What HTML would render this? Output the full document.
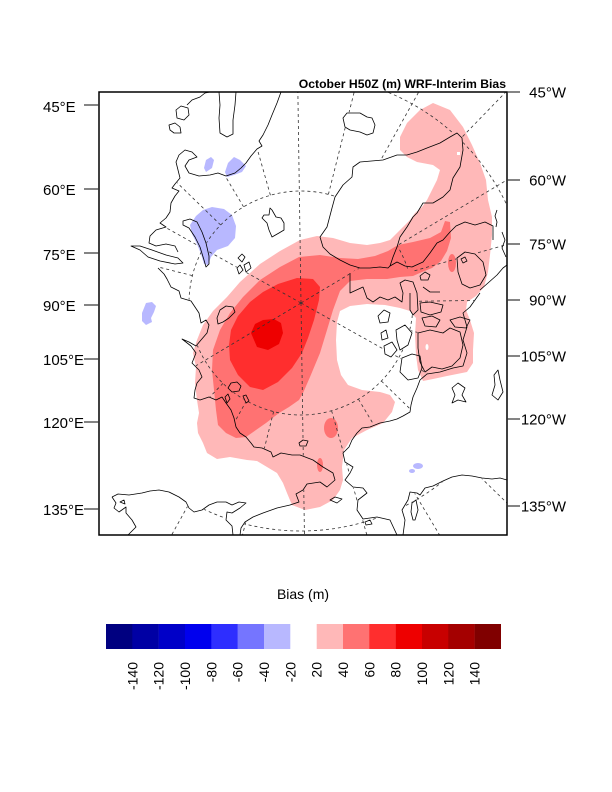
<!DOCTYPE html>
<html><head><meta charset="utf-8"><style>
html,body{margin:0;padding:0;background:#fff;}
svg{display:block;}
text{font-family:"Liberation Sans",Arial,sans-serif;fill:#000;}
</style></head><body>
<svg width="612" height="792" viewBox="0 0 612 792" xmlns="http://www.w3.org/2000/svg" xmlns:xlink="http://www.w3.org/1999/xlink">
<rect width="612" height="792" fill="#fff"/>
<defs>
<clipPath id="c"><rect x="99" y="92" width="408" height="443"/></clipPath>
<g id="isl">
<path d="M176,110 L181,106 L188,108 L189,115 L184,120 L177,118 Z"/>
<path d="M169,125 L175,123 L180,127 L181,133 L174,133 L170,130 Z"/>
<path d="M270,208 L272,210 L276,217 L281,218 L284,223 L284,230 L279,233 L272,237 L269,230 L267,223 L262,218 L264,215 L269,215 Z"/>
<path d="M343,118 L347,113 L360,113 L367,117 L372,118 L375,125 L373,133 L367,135 L360,132 L350,130 L345,127 Z"/>
<path d="M238,258 L242,254 L245,257 L242,262 Z M244,265 L249,262 L251,268 L246,272 Z M237,268 L240,265 L243,270 L239,274 Z"/>
<path d="M183,221 L190,219 L197,222 L202,232 L206,243 L209,256 L209,264 L206,267 L204,260 L200,247 L195,237 L189,228 L183,225 Z"/>
<path d="M131,246 L140,250 L148,257 L160,261 L175,264 L183,263 L178,258 L166,255 L152,250 L140,246 Z"/>
<path d="M217,318 L220,310 L226,306 L233,307 L235,312 L229,318 L223,322 L218,324 Z"/>
<path d="M228,388 L231,383 L237,382 L241,386 L239,391 L232,392 Z"/>
<path d="M225,397 L228,394 L230,399 L227,403 Z M243,396 L246,395 L249,401 L246,403 Z"/>
<path d="M299,443 L303,440 L308,441 L306,446 L300,446 Z"/>
<path d="M330,500 L335,497 L342,499 L337,503 Z"/>
<path d="M120,502 L124,500 L125,504 Z"/>
<path d="M332,208 L335,197 L343,185 L352,177 L353,167 L360,162 L383,160 L397,155 L407,155 L417,152 L427,148 L440,143 L450,137 L457,133 L462,138 L463,150 L460,167 L453,178 L450,190 L443,197 L433,203 L423,203 L417,213 L413,217 L407,227 L400,237 L397,247 L393,257 L390,266 L388,268 L380,267 L370,268 L360,268 L350,265 L340,260 L330,254 L323,247 L320,237 L327,227 Z"/>
<path d="M420,276 L425,272 L430,275 L428,280 L421,280 Z"/>
<path d="M420,303 L430,302 L443,305 L441,312 L430,315 L421,312 Z"/>
<path d="M422,318 L432,316 L440,320 L436,327 L425,326 Z"/>
<path d="M450,320 L460,317 L470,320 L466,328 L455,327 Z"/>
<path d="M418,333 L430,330 L443,333 L450,328 L460,332 L463,345 L460,358 L452,366 L442,369 L432,367 L425,372 L420,362 L418,348 Z"/>
<path d="M402,358 L412,354 L420,356 L422,368 L418,378 L408,380 L400,372 Z"/>
<path d="M378,316 L384,310 L390,313 L388,322 L380,323 Z"/>
<path d="M381,333 L386,330 L388,338 L382,340 Z"/>
<path d="M384,346 L392,342 L397,350 L391,357 L385,354 Z"/>
<path d="M396,330 L405,325 L412,333 L408,345 L400,350 L397,340 Z"/>
<path d="M457,258 L465,252 L475,254 L483,262 L486,275 L480,285 L470,288 L462,284 L458,272 Z"/>
<path d="M461,259 L465,257 L467,261 L463,263 Z"/>
<path d="M413,520 L411,512 L412,503 L416,500 L418,510 L415,520 Z"/>
<path d="M452,388 L458,383 L465,388 L462,395 L466,402 L458,400 L452,403 L455,395 Z"/>
<path d="M494,375 L498,370 L500,380 L503,392 L498,400 L492,395 L495,385 Z"/>
<path d="M365,522 L370,520 L372,524 L366,525 Z"/>
</g>
<mask id="sea" maskUnits="userSpaceOnUse" x="0" y="0" width="612" height="792">
<rect width="612" height="792" fill="#fff"/>
<g fill="#000" stroke="#000" stroke-width="1.5">
<path d="M99,92 L281,92 L277,103 L272,115 L268,125 L263,135 L259,141 L262,146 L257,149 L251,156 L246,163 L241,168 L235,173 L226,176 L218,173 L210,175 L199,176 L189,173 L185,166 L189,160 L197,157 L192,152 L185,150 L179,155 L176,162 L178,170 L180,178 L175,184 L172,188 L179,191 L175,196 L171,203 L170,212 L166,218 L160,223 L166,227 L156,230 L150,236 L149,243 L156,246 L166,244 L175,246 L178,252 L183,263 L175,264 L160,261 L158,268 L164,274 L167,279 L171,287 L179,291 L181,298 L191,301 L199,313 L201,323 L206,320 L209,325 L207,333 L201,340 L196,346 L189,342 L182,339 L191,346 L196,353 L192,363 L199,370 L202,377 L197,383 L195,390 L194,398 L200,400 L209,397 L216,400 L222,397 L226,403 L231,410 L234,418 L236,427 L240,433 L246,437 L251,443 L254,447 L262,448 L271,452 L273,457 L281,453 L292,455 L300,455 L313,460 L323,467 L333,473 L335,480 L327,487 L320,482 L307,484 L303,490 L296,494 L299,502 L290,505 L277,508 L263,513 L253,517 L245,522 L241,528 L240,535 L233,535 L232,526 L226,520 L227,512 L232,513 L240,508 L246,503 L239,502 L232,505 L226,502 L217,502 L209,505 L202,510 L194,512 L189,508 L186,502 L179,497 L169,492 L159,490 L150,491 L142,493 L129,495 L118,494 L112,497 L116,503 L114,508 L119,512 L126,507 L126,513 L132,520 L136,527 L130,533 L128,535 L99,535 Z"/>
<path d="M350,273 L350,293 L363,287 L367,298 L373,302 L380,297 L388,300 L395,297 L402,302 L403,293 L400,283 L405,280 L413,282 L417,293 L418,310 L413,315 L410,310 L410,293 L412,270 L400,268 L380,270 L360,270 Z"/>
<path d="M480,293 L470,307 L463,313 L467,327 L463,340 L467,353 L463,366 L453,368 L440,372 L427,374 L420,380 L417,388 L413,397 L411,405 L410,412 L403,416 L397,419 L390,421 L380,423 L370,427 L362,428 L357,433 L352,440 L349,447 L343,453 L345,462 L353,467 L350,473 L345,480 L353,487 L363,488 L367,493 L358,500 L357,510 L363,519 L377,517 L390,520 L397,535 L403,535 L405,520 L402,510 L408,500 L410,492 L417,493 L420,495 L425,488 L433,486 L443,481 L452,477 L462,475 L472,476 L482,478 L492,479 L500,478 L507,480 L507,265 L503,268 L497,275 L488,283 Z"/>
<use href="#isl" xlink:href="#isl"/>
</g>
</mask>
</defs>
<g clip-path="url(#c)">
<!-- pink >=20 -->
<path fill="#FFB8B8" d="M433,103 L450,110 L463,127 L472,145 L480,163 L486,180 L488,200 L492,217 L492,235 L490,255 L488,272 L484,287 L476,296 L467,302 L466,310 L470,320 L474,333 L473,350 L473,363 L467,372 L447,376 L433,379 L423,381 L418,370 L416,355 L415,335 L416,318 L410,311 L400,308 L385,305 L367,304 L350,306 L340,311 L337,322 L336,340 L337,360 L341,375 L348,385 L362,390 L380,392 L390,395 L395,402 L392,412 L383,423 L367,430 L352,438 L344,450 L342,467 L343,480 L340,490 L333,500 L320,507 L305,510 L292,505 L287,493 L283,483 L277,473 L267,467 L257,461 L247,460 L230,457 L217,459 L207,453 L203,443 L198,433 L197,423 L199,413 L197,400 L195,383 L196,367 L193,353 L197,340 L203,325 L213,311 L227,297 L240,282 L260,264 L280,251 L300,240 L317,236 L333,238 L350,243 L367,245 L380,243 L390,240 L397,233 L403,227 L410,220 L415,213 L422,207 L427,200 L432,190 L437,180 L440,170 L433,165 L417,162 L407,157 L400,150 L400,137 L407,123 L420,110 Z"/>
<!-- 40 -->
<path fill="#FF7272" d="M236,438 L246,437 L256,430 L266,423 L279,413 L289,407 L299,400 L303,393 L310,377 L320,353 L327,330 L333,310 L340,291 L350,281 L367,279 L387,279 L400,277 L413,276 L422,272 L432,268 L441,261 L447,251 L451,238 L450,222 L445,221 L441,232 L430,238 L413,242 L398,245 L388,251 L375,256 L358,259 L340,258 L320,255 L299,257 L280,267 L260,280 L243,297 L230,313 L220,330 L213,350 L212,370 L214,390 L216,410 L218,425 L226,433 Z"/>
<ellipse cx="331" cy="428" rx="7" ry="10" fill="#FF7272"/>
<ellipse cx="320" cy="465" rx="3" ry="7" fill="#FF7272"/>
<ellipse cx="452" cy="263" rx="4" ry="9" fill="#FF7272"/>
<!-- 60 -->
<path fill="#FF2E2E" d="M229,345 L231,330 L238,316 L250,302 L263,292 L278,284 L297,278 L313,279 L320,287 L319,300 L314,320 L308,338 L302,353 L292,368 L278,382 L263,390 L250,387 L238,375 L230,360 Z"/>
<!-- 80 -->
<path fill="#EE0000" d="M251,333 L255,324 L263,320 L274,319 L281,323 L283,333 L279,344 L268,350 L257,347 Z"/>
<rect x="457" y="152" width="3" height="3" fill="#fff"/>
<ellipse cx="427" cy="347" rx="1.5" ry="3" fill="#fff"/>
<!-- blues -->
<g fill="#B8B8FF">
<path d="M212,207 L224,209 L232,215 L236,226 L235,238 L228,246 L217,250 L211,257 L208,265 L204,264 L201,254 L197,244 L192,234 L190,225 L196,216 L203,210 Z"/>
<path d="M204,168 L206,160 L211,157 L214,160 L212,168 L206,172 Z"/>
<path d="M225,172 L228,163 L234,157 L240,160 L246,166 L242,172 L234,175 L227,177 Z"/>
<path d="M146,303 L152,302 L156,306 L154,312 L151,318 L152,322 L146,325 L142,321 L142,313 Z"/>
<ellipse cx="418" cy="466" rx="5" ry="3"/>
<ellipse cx="412" cy="471" rx="3" ry="2"/>
</g>
<!-- grid (masked over land) -->
<g mask="url(#sea)">
<g fill="none" stroke="#333" stroke-width="0.8" stroke-dasharray="3,3">
<circle cx="301" cy="303" r="112"/>
<circle cx="301" cy="303" r="228"/>
<g transform="translate(301,303)">
<line x1="0" y1="-112" x2="0" y2="-420" transform="rotate(-165.85)"/>
<line x1="0" y1="-112" x2="0" y2="-420" transform="rotate(-150.85)"/>
<line x1="0" y1="-112" x2="0" y2="-420" transform="rotate(-135.85)"/>
<line x1="0" y1="0" x2="0" y2="-420" transform="rotate(-120.85)"/>
<line x1="0" y1="-112" x2="0" y2="-420" transform="rotate(-105.85)"/>
<line x1="0" y1="-112" x2="0" y2="-420" transform="rotate(-90.85)"/>
<line x1="0" y1="-112" x2="0" y2="-420" transform="rotate(-75.85)"/>
<line x1="0" y1="0" x2="0" y2="-420" transform="rotate(-60.85)"/>
<line x1="0" y1="-112" x2="0" y2="-420" transform="rotate(-45.85)"/>
<line x1="0" y1="-112" x2="0" y2="-420" transform="rotate(-30.85)"/>
<line x1="0" y1="-112" x2="0" y2="-420" transform="rotate(-15.85)"/>
<line x1="0" y1="0" x2="0" y2="-420" transform="rotate(-0.85)"/>
<line x1="0" y1="-112" x2="0" y2="-420" transform="rotate(14.15)"/>
<line x1="0" y1="-112" x2="0" y2="-420" transform="rotate(29.15)"/>
<line x1="0" y1="-112" x2="0" y2="-420" transform="rotate(44.15)"/>
<line x1="0" y1="0" x2="0" y2="-420" transform="rotate(59.15)"/>
<line x1="0" y1="-112" x2="0" y2="-420" transform="rotate(74.15)"/>
<line x1="0" y1="-112" x2="0" y2="-420" transform="rotate(89.15)"/>
<line x1="0" y1="-112" x2="0" y2="-420" transform="rotate(104.15)"/>
<line x1="0" y1="0" x2="0" y2="-420" transform="rotate(119.15)"/>
<line x1="0" y1="-112" x2="0" y2="-420" transform="rotate(134.15)"/>
<line x1="0" y1="-112" x2="0" y2="-420" transform="rotate(149.15)"/>
<line x1="0" y1="-112" x2="0" y2="-420" transform="rotate(164.15)"/>
<line x1="0" y1="0" x2="0" y2="-420" transform="rotate(179.15)"/>
</g>
</g>
</g>
<!-- coastlines -->
<g fill="none" stroke="#000" stroke-width="0.8" stroke-linejoin="round">
<use href="#isl" xlink:href="#isl"/>
<path d="M281,92 L277,103 L272,115 L268,125 L263,135 L259,141 L262,146 L257,149 L251,156 L246,163 L241,168 L235,173 L226,176 L218,173 L210,175 L199,176 L189,173 L185,166 L189,160 L197,157 L192,152 L185,150 L179,155 L176,162 L178,170 L180,178 L175,184 L172,188 L179,191 L175,196 L171,203 L170,212 L166,218 L160,223 L166,227 L156,230 L150,236 L149,243 L156,246 L166,244 L175,246 L178,252"/>
<path d="M187,105 L192,100 L200,97 L205,93 L210,92"/>
<path d="M219,92 L220,105 L219,118 L220,133 L227,137 L233,134 L233,120 L235,105 L236,92"/>
<path d="M158,268 L164,274 L167,279 L171,287 L179,291 L181,298 L191,301 L199,313 L201,323 L206,320 L209,325 L207,333 L201,340 L196,346 L189,342 L182,339 L191,346 L196,353 L192,363 L199,370 L202,377 L197,383 L195,390 L194,398 L200,400 L209,397 L216,400 L222,397 L226,403 L231,410 L234,418 L236,427 L240,433 L246,437 L251,443 L254,447 L262,448 L271,452 L273,457 L281,453 L292,455 L300,455 L313,460 L323,467 L333,473 L335,480 L327,487 L320,482 L307,484 L303,490 L296,494 L299,502 L290,505 L277,508 L263,513 L253,517 L245,522 L241,528 L240,535"/>
<path d="M112,497 L118,494 L129,495 L142,493 L150,491 L159,490 L169,492 L179,497 L186,502 L189,508 L194,512 L202,510 L209,505 L217,502 L226,502 L232,505 L239,502 L246,503 L240,508 L232,513 L227,512 L226,520 L232,526 L233,535"/>
<path d="M112,497 L116,503 L114,508 L119,512 L126,507 L126,513 L132,520 L136,527 L130,533 L128,535"/>
<path d="M390,266 L397,262 L405,266 L412,267 L423,262 L430,253 L437,243 L443,240 L450,232 L456,226 L465,222 L475,225 L485,222 L493,226 L493,240"/>
<path d="M350,273 L350,293 L363,287 L367,298 L373,302 L380,297 L388,300 L395,297 L402,302 L403,293 L400,283 L405,280 L413,282 L417,293 L418,310 L413,315 L410,310 L410,293"/>
<path d="M423,287 L430,292 L440,292"/>
<path d="M480,290 L488,283 L497,275 L503,268 L507,265"/>
<path d="M480,293 L470,307 L463,313 L467,327 L463,340 L467,353 L463,366 L453,368 L440,372 L427,374 L420,380 L417,388 L413,397 L411,405 L410,412 L403,416 L397,419 L390,421 L380,423 L370,427 L362,428 L357,433 L352,440 L349,447 L343,453 L345,462 L353,467 L350,473 L345,480 L353,487 L363,488 L367,493 L358,500 L357,510 L363,519 L377,517 L390,520 L397,535"/>
<path d="M403,535 L405,520 L402,510 L408,500 L410,492 L417,493 L420,495 L425,488 L433,486 L443,481 L452,477 L462,475 L472,476 L482,478 L492,479 L500,478 L507,480"/>
<path d="M497,210 L495,216 L497,222 L496,227 M502,232 L505,240 L502,248 L506,257"/>
</g>
</g>
<!-- frame -->
<rect x="99" y="92" width="408" height="443" fill="none" stroke="#000" stroke-width="1.5"/>
<!-- ticks -->
<g stroke="#333" stroke-width="1.2">
<line x1="84" y1="105" x2="99" y2="105"/>
<line x1="84" y1="189" x2="99" y2="189"/>
<line x1="84" y1="253" x2="99" y2="253"/>
<line x1="84" y1="305" x2="99" y2="305"/>
<line x1="84" y1="359" x2="99" y2="359"/>
<line x1="84" y1="422" x2="99" y2="422"/>
<line x1="84" y1="509" x2="99" y2="509"/>
<line x1="507" y1="92" x2="520" y2="92"/>
<line x1="507" y1="180" x2="520" y2="180"/>
<line x1="507" y1="244" x2="520" y2="244"/>
<line x1="507" y1="300" x2="520" y2="300"/>
<line x1="507" y1="356" x2="520" y2="356"/>
<line x1="507" y1="419" x2="520" y2="419"/>
<line x1="507" y1="506" x2="520" y2="506"/>
</g>
<g font-size="15">
<text x="43" y="112">45°E</text>
<text x="43" y="195">60°E</text>
<text x="43" y="260">75°E</text>
<text x="43" y="311">90°E</text>
<text x="43" y="365">105°E</text>
<text x="43" y="428">120°E</text>
<text x="43" y="515">135°E</text>
</g>
<g font-size="15" text-anchor="end">
<text x="566" y="97.5">45°W</text>
<text x="566" y="185.5">60°W</text>
<text x="566" y="249.5">75°W</text>
<text x="566" y="305.5">90°W</text>
<text x="566" y="361.5">105°W</text>
<text x="566" y="424.5">120°W</text>
<text x="566" y="511.5">135°W</text>
</g>
<text x="506" y="88" font-size="12.2" font-weight="bold" text-anchor="end">October H50Z (m) WRF-Interim Bias</text>
<text x="303" y="599" font-size="14" text-anchor="middle">Bias (m)</text>
<!-- colorbar -->
<g>
<rect x="106" y="624" width="26.6" height="25" fill="#000080"/>
<rect x="132.3" y="624" width="26.6" height="25" fill="#0000A4"/>
<rect x="158.7" y="624" width="26.6" height="25" fill="#0000C8"/>
<rect x="185" y="624" width="26.6" height="25" fill="#0000EE"/>
<rect x="211.3" y="624" width="26.6" height="25" fill="#2E2EFF"/>
<rect x="237.7" y="624" width="26.6" height="25" fill="#7575FF"/>
<rect x="264" y="624" width="26.3" height="25" fill="#B8B8FF"/>
<rect x="316.7" y="624" width="26.6" height="25" fill="#FFB8B8"/>
<rect x="343" y="624" width="26.6" height="25" fill="#FF7272"/>
<rect x="369.3" y="624" width="26.6" height="25" fill="#FF2E2E"/>
<rect x="395.7" y="624" width="26.6" height="25" fill="#EE0000"/>
<rect x="422" y="624" width="26.6" height="25" fill="#C80000"/>
<rect x="448.3" y="624" width="26.6" height="25" fill="#A40000"/>
<rect x="474.7" y="624" width="26.3" height="25" fill="#800000"/>
</g>
<g font-size="14" text-anchor="end">
<text transform="translate(137.3,662) rotate(-90)">-140</text>
<text transform="translate(163.7,662) rotate(-90)">-120</text>
<text transform="translate(190,662) rotate(-90)">-100</text>
<text transform="translate(216.3,662) rotate(-90)">-80</text>
<text transform="translate(242.7,662) rotate(-90)">-60</text>
<text transform="translate(269,662) rotate(-90)">-40</text>
<text transform="translate(295.3,662) rotate(-90)">-20</text>
<text transform="translate(321.7,662) rotate(-90)">20</text>
<text transform="translate(348,662) rotate(-90)">40</text>
<text transform="translate(374.3,662) rotate(-90)">60</text>
<text transform="translate(400.7,662) rotate(-90)">80</text>
<text transform="translate(427,662) rotate(-90)">100</text>
<text transform="translate(453.3,662) rotate(-90)">120</text>
<text transform="translate(479.7,662) rotate(-90)">140</text>
</g>
</svg>
</body></html>
